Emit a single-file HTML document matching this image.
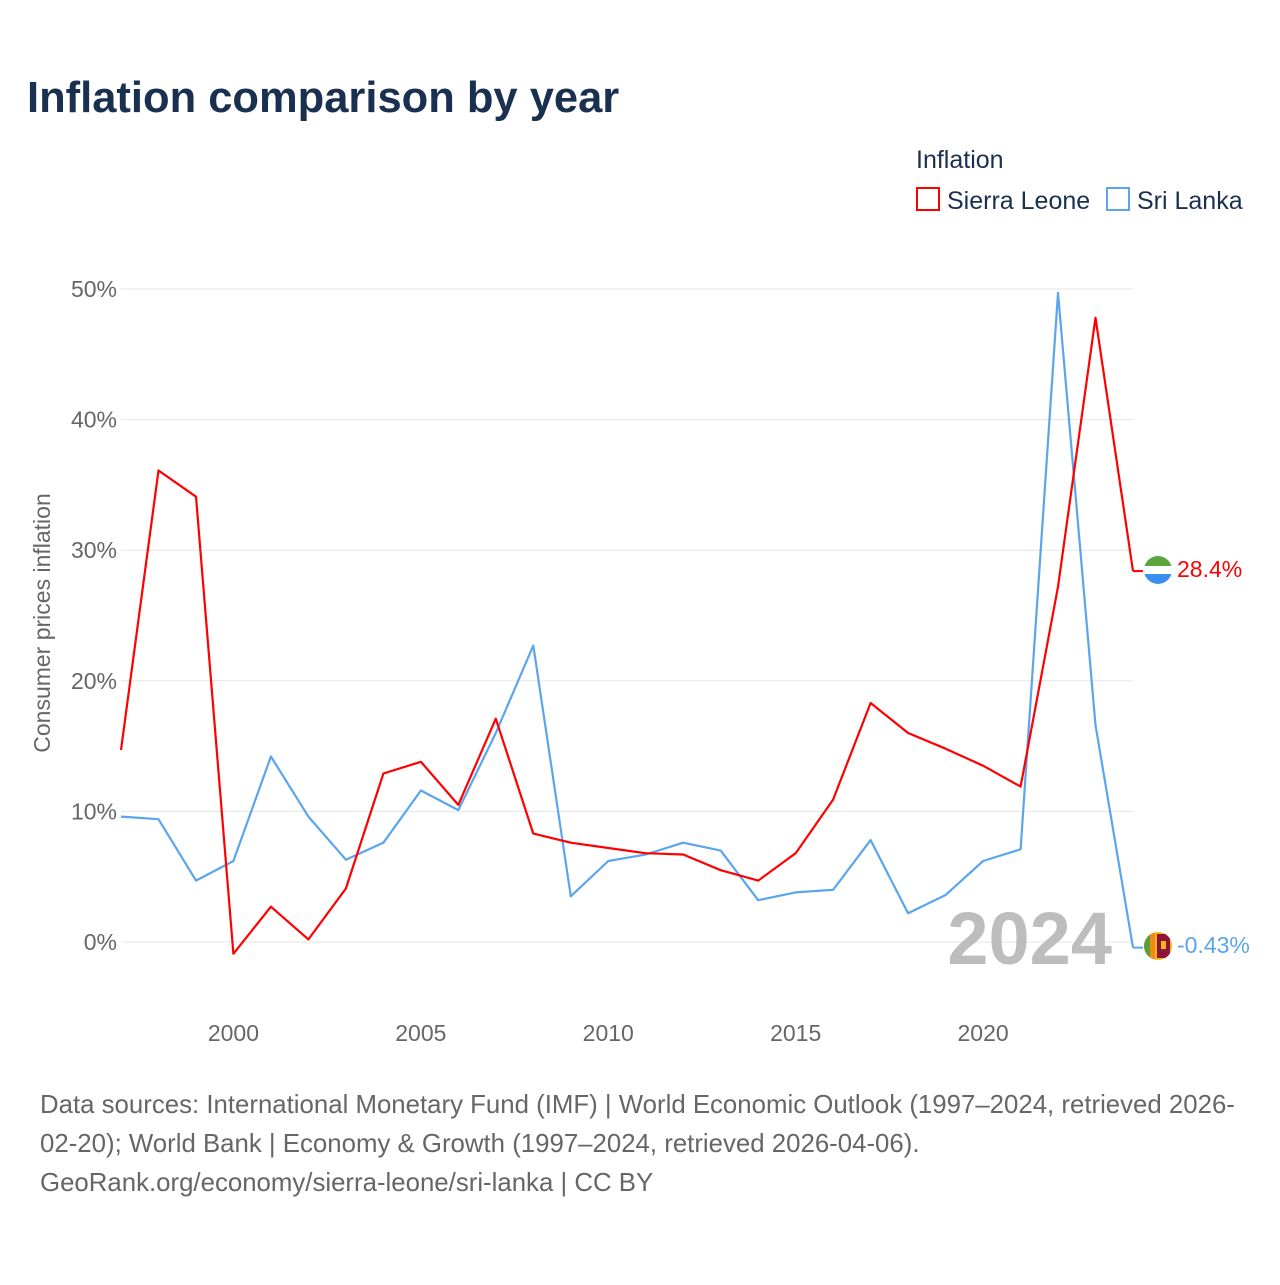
<!DOCTYPE html>
<html><head><meta charset="utf-8">
<style>
html,body{margin:0;padding:0;background:#fff;}
body{width:1280px;height:1280px;font-family:"Liberation Sans",sans-serif;position:relative;overflow:hidden;}
</style></head>
<body>
<svg id="chart" width="1280" height="1280" viewBox="0 0 1280 1280" xmlns="http://www.w3.org/2000/svg" font-family="Liberation Sans, sans-serif">
<text x="27" y="112" font-size="43.5" font-weight="bold" fill="#1a3050">Inflation comparison by year</text>
<text x="916" y="168" font-size="25" fill="#1a3050">Inflation</text>
<g>
<rect x="917" y="188" width="22" height="22" fill="none" stroke="#ff0000" stroke-width="2"/>
<text x="947" y="209" font-size="25" fill="#1a3050">Sierra Leone</text></g>
<g>
<rect x="1107" y="188" width="22" height="22" fill="none" stroke="#5aa5ee" stroke-width="2"/>
<text x="1137" y="209" font-size="25" fill="#1a3050">Sri Lanka</text></g>
<text transform="translate(50,623) rotate(-90)" text-anchor="middle" font-size="23" fill="#666">Consumer prices inflation</text>
<g id="grid"></g>
<g id="xticks"></g>
<text x="1112" y="964" text-anchor="end" font-size="74" font-weight="bold" fill="#bdbdbd">2024</text>
<g id="series"></g>
<g>
<clipPath id="c1"><circle cx="1158" cy="570" r="14"/></clipPath>
<g clip-path="url(#c1)"><rect x="1144" y="556" width="28" height="10" fill="#5aa63c"/><rect x="1144" y="566" width="28" height="8" fill="#fff"/><rect x="1144" y="574" width="28" height="10" fill="#3a8ef0"/></g></g>
<g>
<clipPath id="c2"><circle cx="1158" cy="946" r="14"/></clipPath>
<g clip-path="url(#c2)"><rect x="1144" y="932" width="28" height="28" fill="#f7b718"/><rect x="1144" y="932" width="6" height="28" fill="#5a9e3a"/><rect x="1150" y="932" width="5" height="28" fill="#f08a1c"/><rect x="1157" y="934" width="13" height="24" fill="#8d153a"/><rect x="1161" y="941" width="5" height="8" fill="#f7b718"/></g></g>
<text x="1177" y="577" font-size="23" fill="#ff0000">28.4%</text>
<text x="1177" y="953" font-size="23" fill="#5aa5ee">-0.43%</text>
<text font-size="25.8" fill="#666">
<tspan x="40" y="1113">Data sources: International Monetary Fund (IMF) | World Economic Outlook (1997–2024, retrieved 2026-</tspan>
<tspan x="40" y="1152">02-20); World Bank | Economy &amp; Growth (1997–2024, retrieved 2026-04-06).</tspan>
<tspan x="40" y="1191">GeoRank.org/economy/sierra-leone/sri-lanka | CC BY</tspan>
</text>
</svg>
<script>
const years=[1997,1998,1999,2000,2001,2002,2003,2004,2005,2006,2007,2008,2009,2010,2011,2012,2013,2014,2015,2016,2017,2018,2019,2020,2021,2022,2023,2024];
const sierraLeone=[14.7,36.1,34.1,-0.9,2.7,0.2,4.1,12.9,13.8,10.5,17.1,8.3,7.6,7.2,6.8,6.7,5.5,4.7,6.8,10.9,18.3,16.0,14.8,13.5,11.9,27.2,47.8,28.4];
const sriLanka=[9.6,9.4,4.7,6.2,14.2,9.6,6.3,7.6,11.6,10.1,16.0,22.7,3.5,6.2,6.7,7.6,7.0,3.2,3.8,4.0,7.8,2.2,3.6,6.2,7.1,49.7,16.6,-0.43];
const yTicks=[0,10,20,30,40,50];
const xTicks=[2000,2005,2010,2015,2020];
const NS="http://www.w3.org/2000/svg";
const x=v=>121+(v-1997)*(1133-121)/27;
const y=v=>942-v*(942-289)/50;
function mk(t,a,p){const e=document.createElementNS(NS,t);for(const k in a)e.setAttribute(k,a[k]);p.appendChild(e);return e;}
const grid=document.getElementById('grid');
yTicks.forEach(t=>{
 const l=mk('line',{x1:121,x2:1133,y1:y(t),y2:y(t),stroke:'#e6e6e6','stroke-width':1},grid);
 
 
 const tx=mk('text',{x:117,y:y(t)+8,'text-anchor':'end','font-size':23,fill:'#666'},grid);
 tx.textContent=t+'%';
 
 
});
const xt=document.getElementById('xticks');
xTicks.forEach(t=>{
 const tx=mk('text',{x:x(t),y:1041,'text-anchor':'middle','font-size':23,fill:'#666'},xt);
 tx.textContent=t;
 
 
});
const sg=document.getElementById('series');
function line(vals,color,name){
 const d=vals.map((v,i)=>(i?'L':'M')+x(years[i]).toFixed(1)+','+y(v).toFixed(1)).join('');
 const p=mk('path',{d:d,fill:'none',stroke:color,'stroke-width':2.2,'stroke-linejoin':'round'},sg);
 
 
 const last=vals[vals.length-1];
 mk('line',{x1:x(2024),x2:x(2024)+10,y1:y(last),y2:y(last),stroke:color,'stroke-width':2},sg);
}
line(sriLanka,'#5aa5ee','line-sri-lanka');
line(sierraLeone,'#ff0000','line-sierra-leone');
</script>
</body></html>
